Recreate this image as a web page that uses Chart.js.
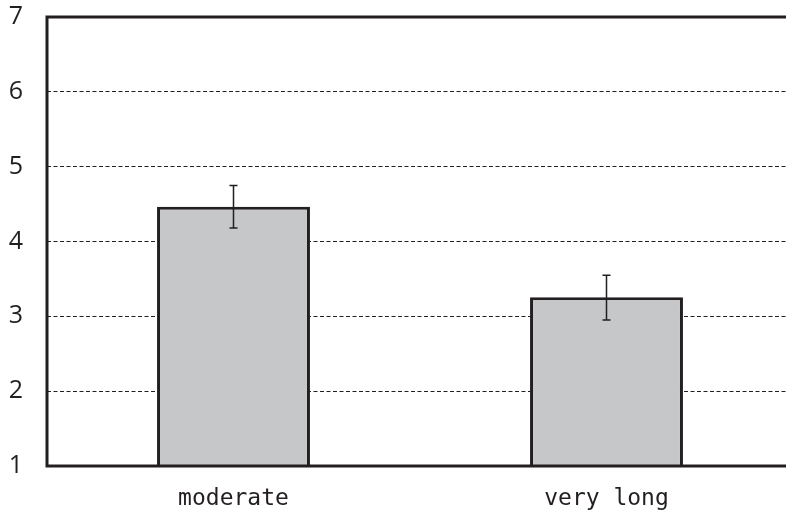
<!DOCTYPE html>
<html>
<head>
<meta charset="utf-8">
<script src="https://cdn.jsdelivr.net/npm/chart.js@4/dist/chart.umd.min.js"></script>
<style>
  html, body { margin: 0; padding: 0; background: #fff; overflow: hidden; }
  #wrap { width: 793px; height: 514px; }
</style>
</head>
<body>
<div id="wrap"><canvas id="chart" width="793" height="514"></canvas></div>
<script>
// data
const categories = ["moderate", "very long"];
const means = [4.465, 3.255];
const errLow = [4.18, 2.95];
const errHigh = [4.75, 3.55];
const yTicks = [1, 2, 3, 4, 5, 6, 7];

const ink = "#231f20";

// frame around plot area + error bars
const extras = {
  id: "extras",
  afterDatasetsDraw(chart) {
    const ctx = chart.ctx;
    const x = chart.scales.x;
    const y = chart.scales.y;
    ctx.save();
    ctx.strokeStyle = ink;
    ctx.lineWidth = 1.5;
    categories.forEach((c, i) => {
      const cx = x.getPixelForValue(i);
      const top = y.getPixelForValue(errHigh[i]);
      const bot = y.getPixelForValue(errLow[i]);
      ctx.beginPath();
      ctx.moveTo(cx, top);
      ctx.lineTo(cx, bot);
      ctx.moveTo(cx - 4, top);
      ctx.lineTo(cx + 4, top);
      ctx.moveTo(cx - 4, bot);
      ctx.lineTo(cx + 4, bot);
      ctx.stroke();
    });
    const a = chart.chartArea;
    ctx.lineWidth = 3;
    ctx.strokeRect(a.left, a.top, a.right - a.left, a.bottom - a.top);
    ctx.restore();
  }
};

const ctx = document.getElementById("chart").getContext("2d");
new Chart(ctx, {
  type: "bar",
  data: {
    labels: categories,
    datasets: [
      {
        data: means,
        backgroundColor: "#c6c7c8",
        borderColor: ink,
        borderWidth: 3,
        borderSkipped: "bottom",
        categoryPercentage: 1,
        barPercentage: 0.41,
        base: 1,
      },
    ],
  },
  options: {
    responsive: false,
    animation: false,
    layout: { padding: { top: 17, right: 0, left: 0, bottom: 0 } },
    plugins: {
      legend: { display: false },
      tooltip: { enabled: false },
    },
    scales: {
      x: {
        grid: { display: false, drawTicks: false },
        border: { display: false },
        ticks: {
          color: ink,
          padding: 19,
          font: { family: "DejaVu Sans Mono", size: 23 },
        },
        afterFit: (s) => { s.height = 48; s.paddingLeft = 0; s.paddingRight = 0; },
      },
      y: {
        min: 1,
        max: 7,
        afterBuildTicks: (s) => { s.ticks = yTicks.map((v) => ({ value: v })); },
        grid: { color: ink, lineWidth: 1, drawTicks: false },
        border: { display: false, dash: [4, 2.5] },
        ticks: {
          color: ink,
          padding: 24,
          font: { family: "Open Sans", size: 25 },
        },
        afterFit: (s) => { s.width = 47; s.paddingTop = 0; s.paddingBottom = 0; },
      },
    },
  },
  plugins: [extras],
});
</script>
</body>
</html>
